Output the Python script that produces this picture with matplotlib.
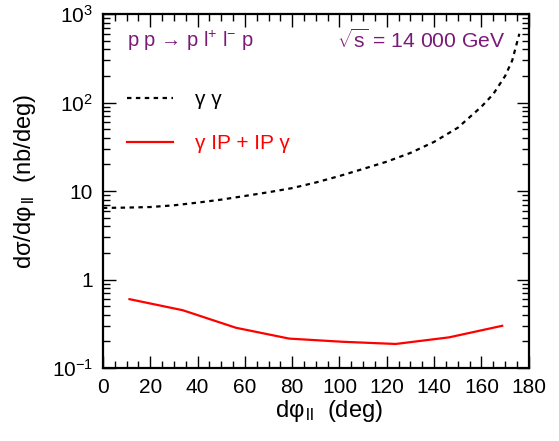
import numpy as np
import matplotlib
matplotlib.use('Agg')
import matplotlib.pyplot as plt
from matplotlib.ticker import MultipleLocator, LogLocator, NullFormatter, FixedLocator, FixedFormatter
from matplotlib.lines import Line2D

plt.rcParams['font.family'] = ['Liberation Sans', 'DejaVu Sans']
plt.rcParams['mathtext.fontset'] = 'custom'
plt.rcParams['mathtext.rm'] = 'Liberation Sans'
plt.rcParams['mathtext.it'] = 'Liberation Sans:italic'
plt.rcParams['mathtext.bf'] = 'Liberation Sans:bold'

# gamma gamma contribution (dashed)
phi_gg = [0, 10, 20, 30, 40, 50, 60, 70, 80, 90, 100, 110, 120, 130, 140, 150, 160, 165, 170, 173, 176]
xs_gg = [6.45, 6.5, 6.6, 6.9, 7.4, 8.0, 8.8, 9.7, 10.8, 12.5, 14.8, 17.8, 21.5, 27, 36, 52, 90, 125, 200, 300, 600]

# gamma-Pomeron + Pomeron-gamma contribution (solid red)
phi_gp = [11.25, 33.75, 56.25, 78.75, 101.25, 123.75, 146.25, 168.75]
xs_gp = [0.60, 0.45, 0.285, 0.215, 0.198, 0.187, 0.222, 0.30]

purple = '#7a1a78'

fig = plt.figure(figsize=(5.59, 4.41), dpi=100)
ax = fig.add_axes([0.184, 0.1655, 0.762, 0.8025])

ax.plot(phi_gg, xs_gg, color='black', lw=1.6, ls=(0, (2, 2)))
ax.plot(phi_gp, xs_gp, color='red', lw=1.6)

ax.set_xlim(0, 180)
ax.set_yscale('log')
ax.set_ylim(0.1, 1000)

ax.xaxis.set_major_locator(MultipleLocator(20))
ax.xaxis.set_minor_locator(MultipleLocator(5))
ax.yaxis.set_major_locator(FixedLocator([0.1, 1, 10, 100, 1000]))
ax.yaxis.set_major_formatter(FixedFormatter(['$10^{-1}$', '1', '10', '$10^{2}$', '$10^{3}$']))
ax.yaxis.set_minor_locator(LogLocator(base=10, subs=np.arange(2, 10)))
ax.yaxis.set_minor_formatter(NullFormatter())

ax.tick_params(which='both', direction='in', top=True, right=True, labelsize=15, width=1, color='black')
ax.tick_params(which='major', length=9)
ax.tick_params(which='minor', length=5)
ax.tick_params(axis='x', pad=7)
ax.tick_params(axis='y', pad=7)
for s in ax.spines.values():
    s.set_linewidth(1.6)

ax.set_xlabel('dφ$_{\\,\\mathregular{ll}}$  (deg)', fontsize=17)
ax.xaxis.set_label_coords(0.53, -0.085)
ax.set_ylabel('dσ/dφ$_{\\,\\mathregular{ll}}$  (nb/deg)', fontsize=17)
ax.yaxis.set_label_coords(-0.153, 0.527)

ax.text(0.056, 0.925, 'p p → p l$^{+}$ l$^{-}$ p', transform=ax.transAxes, fontsize=14.5,
        color=purple, va='center', ha='left')
ax.text(0.945, 0.925, r'$\sqrt{\mathregular{s}}$ = 14 000 GeV', transform=ax.transAxes, fontsize=15.2,
        color=purple, va='center', ha='right')

handles = [Line2D([], [], color='black', lw=1.6, ls=(0, (2, 2))),
           Line2D([], [], color='red', lw=1.6)]
leg = ax.legend(handles, ['γ γ', 'γ IP + IP γ'], loc='upper left', bbox_to_anchor=(0.056, 0.785),
                frameon=False, fontsize=15, handlelength=2.2, handletextpad=1.1,
                labelspacing=1.2, borderpad=0, borderaxespad=0)
leg.get_texts()[1].set_color('red')

fig.savefig('out.png', dpi=100)
